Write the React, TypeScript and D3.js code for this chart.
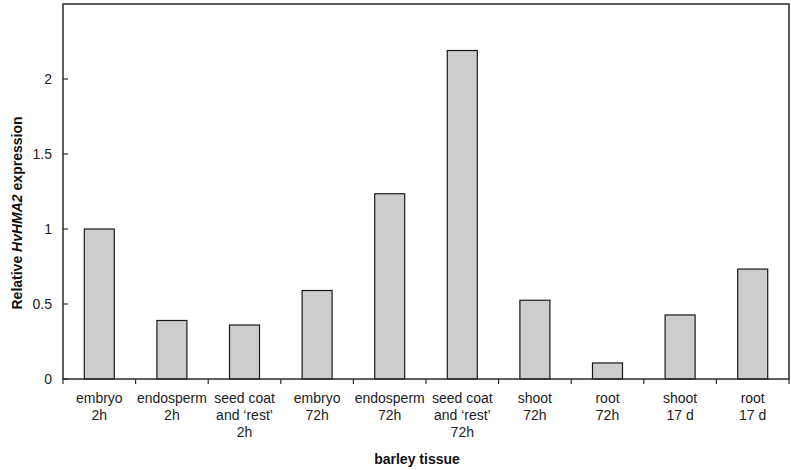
import React from "react";
import * as d3 from "d3";

const categories: string[][] = [
  ["embryo", "2h"],
  ["endosperm", "2h"],
  ["seed coat", "and \u2018rest\u2019", "2h"],
  ["embryo", "72h"],
  ["endosperm", "72h"],
  ["seed coat", "and \u2018rest\u2019", "72h"],
  ["shoot", "72h"],
  ["root", "72h"],
  ["shoot", "17 d"],
  ["root", "17 d"],
];
const values: number[] = [1.0, 0.39, 0.36, 0.59, 1.235, 2.19, 0.525, 0.107, 0.427, 0.733];
const yTicks: number[] = [0, 0.5, 1, 1.5, 2];

const W = 791, H = 470;
const left = 63, right = 789, top = 4, bottom = 379;

export default function App() {
  const x = d3.scaleBand<number>().domain(d3.range(categories.length)).range([left, right]).paddingInner(0).paddingOuter(0);
  const y = d3.scaleLinear().domain([0, 2.5]).range([bottom, top]);
  const bw = 30;
  const font = "Arial, 'Liberation Sans', Helvetica, sans-serif";
  return (
    <svg width={W} height={H} style={{ position: "absolute", left: 0, top: 0, background: "#fff" }} fontFamily={font}>
      {values.map((v, i) => {
        const cx = (x(i) as number) + x.bandwidth() / 2;
        return (
          <rect key={i} x={cx - bw / 2} y={y(v)} width={bw} height={bottom - y(v)} fill="#cdcdcd" stroke="#1a1a1a" strokeWidth={1.2} />
        );
      })}
      <rect x={left} y={top} width={right - left} height={bottom - top} fill="none" stroke="#2a2a2a" strokeWidth={1.5} />
      {yTicks.map((t) => (
        <g key={t}>
          <line x1={left} x2={left + 5} y1={y(t)} y2={y(t)} stroke="#2a2a2a" strokeWidth={1.2} />
          <text x={52} y={y(t)} dy="0.35em" textAnchor="end" fontSize={14} fill="#222">{t}</text>
        </g>
      ))}
      {d3.range(categories.length + 1).map((i) => {
        const xx = i < categories.length ? (x(i) as number) : right;
        return <line key={i} x1={xx} x2={xx} y1={bottom} y2={bottom + 5} stroke="#2a2a2a" strokeWidth={1.2} />;
      })}
      {categories.map((lines, i) => {
        const cx = (x(i) as number) + x.bandwidth() / 2;
        return (
          <text key={i} x={cx} textAnchor="middle" fontSize={14} fill="#222">
            {lines.map((l, j) => (
              <tspan key={j} x={cx} y={403 + j * 17}>{l}</tspan>
            ))}
          </text>
        );
      })}
      <text x={417} y={464} textAnchor="middle" fontSize={14} fontWeight="bold" fill="#111">barley tissue</text>
      <text transform={`translate(22,213) rotate(-90)`} textAnchor="middle" fontSize={14} fontWeight="bold" fill="#111">
        Relative <tspan fontStyle="italic">HvHMA2</tspan> expression
      </text>
    </svg>
  );
}
